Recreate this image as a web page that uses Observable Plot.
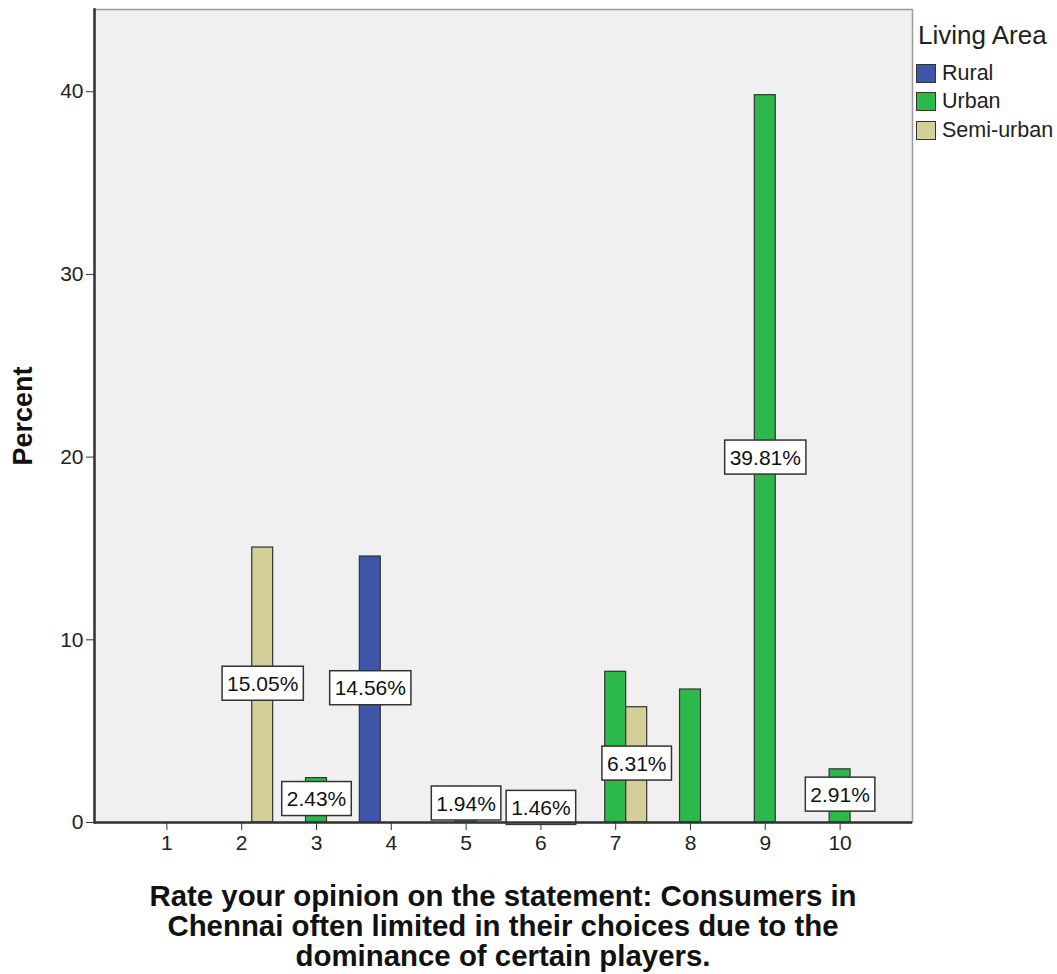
<!DOCTYPE html>
<html><head><meta charset="utf-8">
<script src="https://cdn.jsdelivr.net/npm/d3@7"></script>
<script src="https://cdn.jsdelivr.net/npm/@observablehq/plot@0.6"></script>
<style>
body{margin:0;background:#fff;font-family:"Liberation Sans",Arial,sans-serif;}
#wrap{position:relative;width:1057px;height:974px;overflow:hidden;}
#legend{position:absolute;left:916px;top:20px;color:#222;}
#legend .title{font-size:26px;margin-left:2px;margin-bottom:8px;}
#legend .item{display:flex;align-items:center;font-size:21.5px;height:28.5px;}
#legend .sw{width:20px;height:19px;border:1.5px solid #333;margin-right:6px;box-sizing:border-box;}
#caption{position:absolute;left:94px;width:818px;top:881px;text-align:center;font-weight:bold;font-size:29.4px;line-height:30px;color:#111;}
</style></head><body>
<div id="wrap"><div id="chart"></div><div id="legend"></div><div id="caption"></div></div>
<script>
const categories = ["1","2","3","4","5","6","7","8","9","10"];
const groups = ["Rural","Urban","Semi-urban"];
const groupColors = ["#3d56a9","#2db84b","#d4cf98"];
const barCategory = ["2","3","4","5","6","7","7","8","9","10"];
const barGroup = ["Semi-urban","Urban","Rural","Urban","Urban","Urban","Semi-urban","Urban","Urban","Urban"];
const barValue = [15.05,2.43,14.56,1.94,1.46,8.25,6.31,7.28,39.81,2.91];
const barLabelled = [true,true,true,true,true,false,true,false,true,true];
const yTicks = [0,10,20,30,40];
const yLabel = "Percent";
const xTitle = "Rate your opinion on the statement: Consumers in<br>Chennai often limited in their choices due to the<br>dominance of certain players.";
const legendTitle = "Living Area";

const data = barCategory.map((c,i)=>({category:c, group:barGroup[i], value:barValue[i], labelled:barLabelled[i]}));
const groupOffset = {"Rural":-21, "Urban":0, "Semi-urban":21};

const marks = [
  Plot.frame({fill:"#f0f0f0", stroke:"#9a9a9a", strokeWidth:1.5}),
  Plot.frame({anchor:"left", stroke:"#333", strokeWidth:2.5}),
];
groups.forEach((g,i)=>{
  marks.push(Plot.barY(data.filter(d=>d.group===g), {x:"category", y:"value", fill:groupColors[i], stroke:"#333", strokeWidth:1.2, dx:groupOffset[g]}));
});
groups.forEach((g,i)=>{
  marks.push(Plot.text(data.filter(d=>d.group===g && d.labelled), {x:"category", y:d=>d.value/2, text:d=>d.value.toFixed(2)+"%", dx:groupOffset[g], dy:-1, fontSize:21, fill:"#111", className:"vlabel"}));
});
marks.push(Plot.ruleY([0], {stroke:"#333", strokeWidth:2.5}));
marks.push(Plot.axisY({ticks:yTicks, tickSize:8, tickPadding:3, fontSize:21, label:yLabel, labelAnchor:"center", labelArrow:"none", labelOffset:82, stroke:"#333"}));
marks.push(Plot.axisX({tickSize:8, tickPadding:5, fontSize:21, label:null, stroke:"#333"}));

const chart = Plot.plot({
  width:1057, height:872,
  marginLeft:94, marginRight:145, marginTop:9, marginBottom:50,
  style:{fontFamily:"'Liberation Sans', Arial, sans-serif", color:"#222", background:"transparent"},
  x:{domain:categories, paddingInner:0.72, paddingOuter:0.828, round:false},
  y:{domain:[0,44.5]},
  marks
});
document.getElementById("chart").appendChild(chart);

// boxes behind value labels
d3.select(chart).selectAll(".vlabel text").each(function(){
  const t = this;
  const bb = t.getBBox();
  const padX = 5, padY = 5.5;
  const r = document.createElementNS("http://www.w3.org/2000/svg","rect");
  r.setAttribute("x", bb.x - padX); r.setAttribute("y", bb.y - padY);
  r.setAttribute("width", bb.width + 2*padX); r.setAttribute("height", bb.height + 2*padY);
  r.setAttribute("fill","#fff"); r.setAttribute("stroke","#333"); r.setAttribute("stroke-width","1.5");
  const tr = t.getAttribute("transform"); if(tr) r.setAttribute("transform", tr);
  t.parentNode.insertBefore(r, t);
});
// y axis label style
d3.select(chart).selectAll("g[aria-label='y-axis label'] text").attr("font-weight","bold").attr("font-size",27).attr("fill","#111");

const lg = document.getElementById("legend");
lg.innerHTML = `<div class="title">${legendTitle}</div>` + groups.map((g,i)=>`<div class="item"><div class="sw" style="background:${groupColors[i]}"></div>${g}</div>`).join("");
document.getElementById("caption").innerHTML = xTitle;
</script>
</body></html>
